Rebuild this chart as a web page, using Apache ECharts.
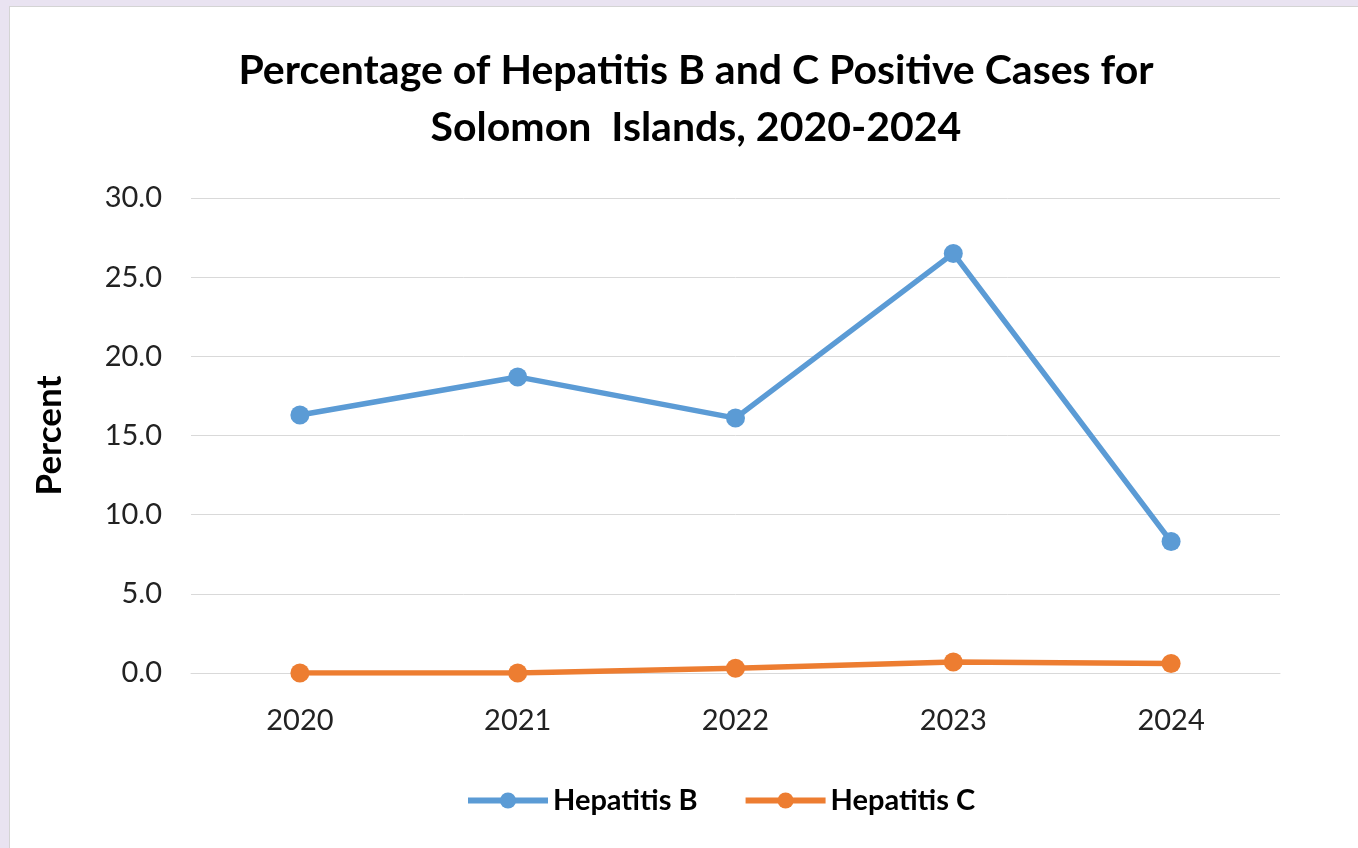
<!DOCTYPE html>
<html>
<head>
<meta charset="utf-8">
<script src="https://cdn.jsdelivr.net/npm/echarts@6/dist/echarts.min.js"></script>
<style>
  html, body { margin: 0; padding: 0; background: #e9e3f1; }
  #chart { position: absolute; left: 9px; top: 6px; width: 1349px; height: 842px; background: #fff; border-left: 1px solid #d4d4d4; border-top: 1px solid #d4d4d4; box-sizing: border-box; }
</style>
</head>
<body>
<div id="chart"></div>
<script>
// chart data
const years = ['2020', '2021', '2022', '2023', '2024']
const hepB = [16.3, 18.7, 16.1, 26.5, 8.3]
const hepC = [0.0, 0.0, 0.3, 0.7, 0.6]

const font = 'Lato, "Open Sans", sans-serif'

let myChart = echarts.init(document.getElementById('chart'))
myChart.setOption({
  backgroundColor: '#fff',
  textStyle: { fontFamily: font },
  title: {
    text: 'Percentage of Hepatitis B and C Positive Cases for\nSolomon  Islands, 2020-2024',
    left: 681,
    textAlign: 'center',
    top: 30,
    textStyle: {
      fontFamily: font,
      fontSize: 41,
      fontWeight: 'bold',
      color: '#000',
      lineHeight: 57
    }
  },
  legend: {
    left: 450,
    top: 774,
    itemWidth: 80,
    itemHeight: 20,
    itemGap: 45,
    lineStyle: { width: 6 },
    textStyle: { fontSize: 29, fontWeight: 'bold', color: '#000', fontFamily: font },
    data: ['Hepatitis B', 'Hepatitis C']
  },
  grid: {
    left: 181,
    right: 78,
    top: 191,
    height: 475
  },
  xAxis: {
    type: 'category',
    data: years,
    axisLine: { lineStyle: { color: '#d9d9d9', width: 1 } },
    axisTick: { show: false },
    axisLabel: { fontSize: 29, color: '#222', margin: 33, fontFamily: font }
  },
  yAxis: {
    type: 'value',
    min: 0,
    max: 30,
    interval: 5,
    name: 'Percent',
    nameLocation: 'middle',
    nameGap: 124,
    nameTextStyle: { fontSize: 35, fontWeight: 'bold', color: '#000', fontFamily: font },
    axisLine: { show: false },
    axisTick: { show: false },
    axisLabel: {
      fontSize: 29,
      color: '#222',
      margin: 29,
      fontFamily: font,
      formatter: v => v.toFixed(1)
    },
    splitLine: { lineStyle: { color: '#d9d9d9', width: 1 } }
  },
  series: [
    {
      name: 'Hepatitis B',
      type: 'line',
      data: hepB,
      color: '#5b9bd5',
      symbol: 'circle',
      symbolSize: 19,
      lineStyle: { width: 5.5 }
    },
    {
      name: 'Hepatitis C',
      type: 'line',
      data: hepC,
      color: '#ed7d31',
      symbol: 'circle',
      symbolSize: 19,
      lineStyle: { width: 5.5 }
    }
  ]
})
</script>
</body>
</html>
